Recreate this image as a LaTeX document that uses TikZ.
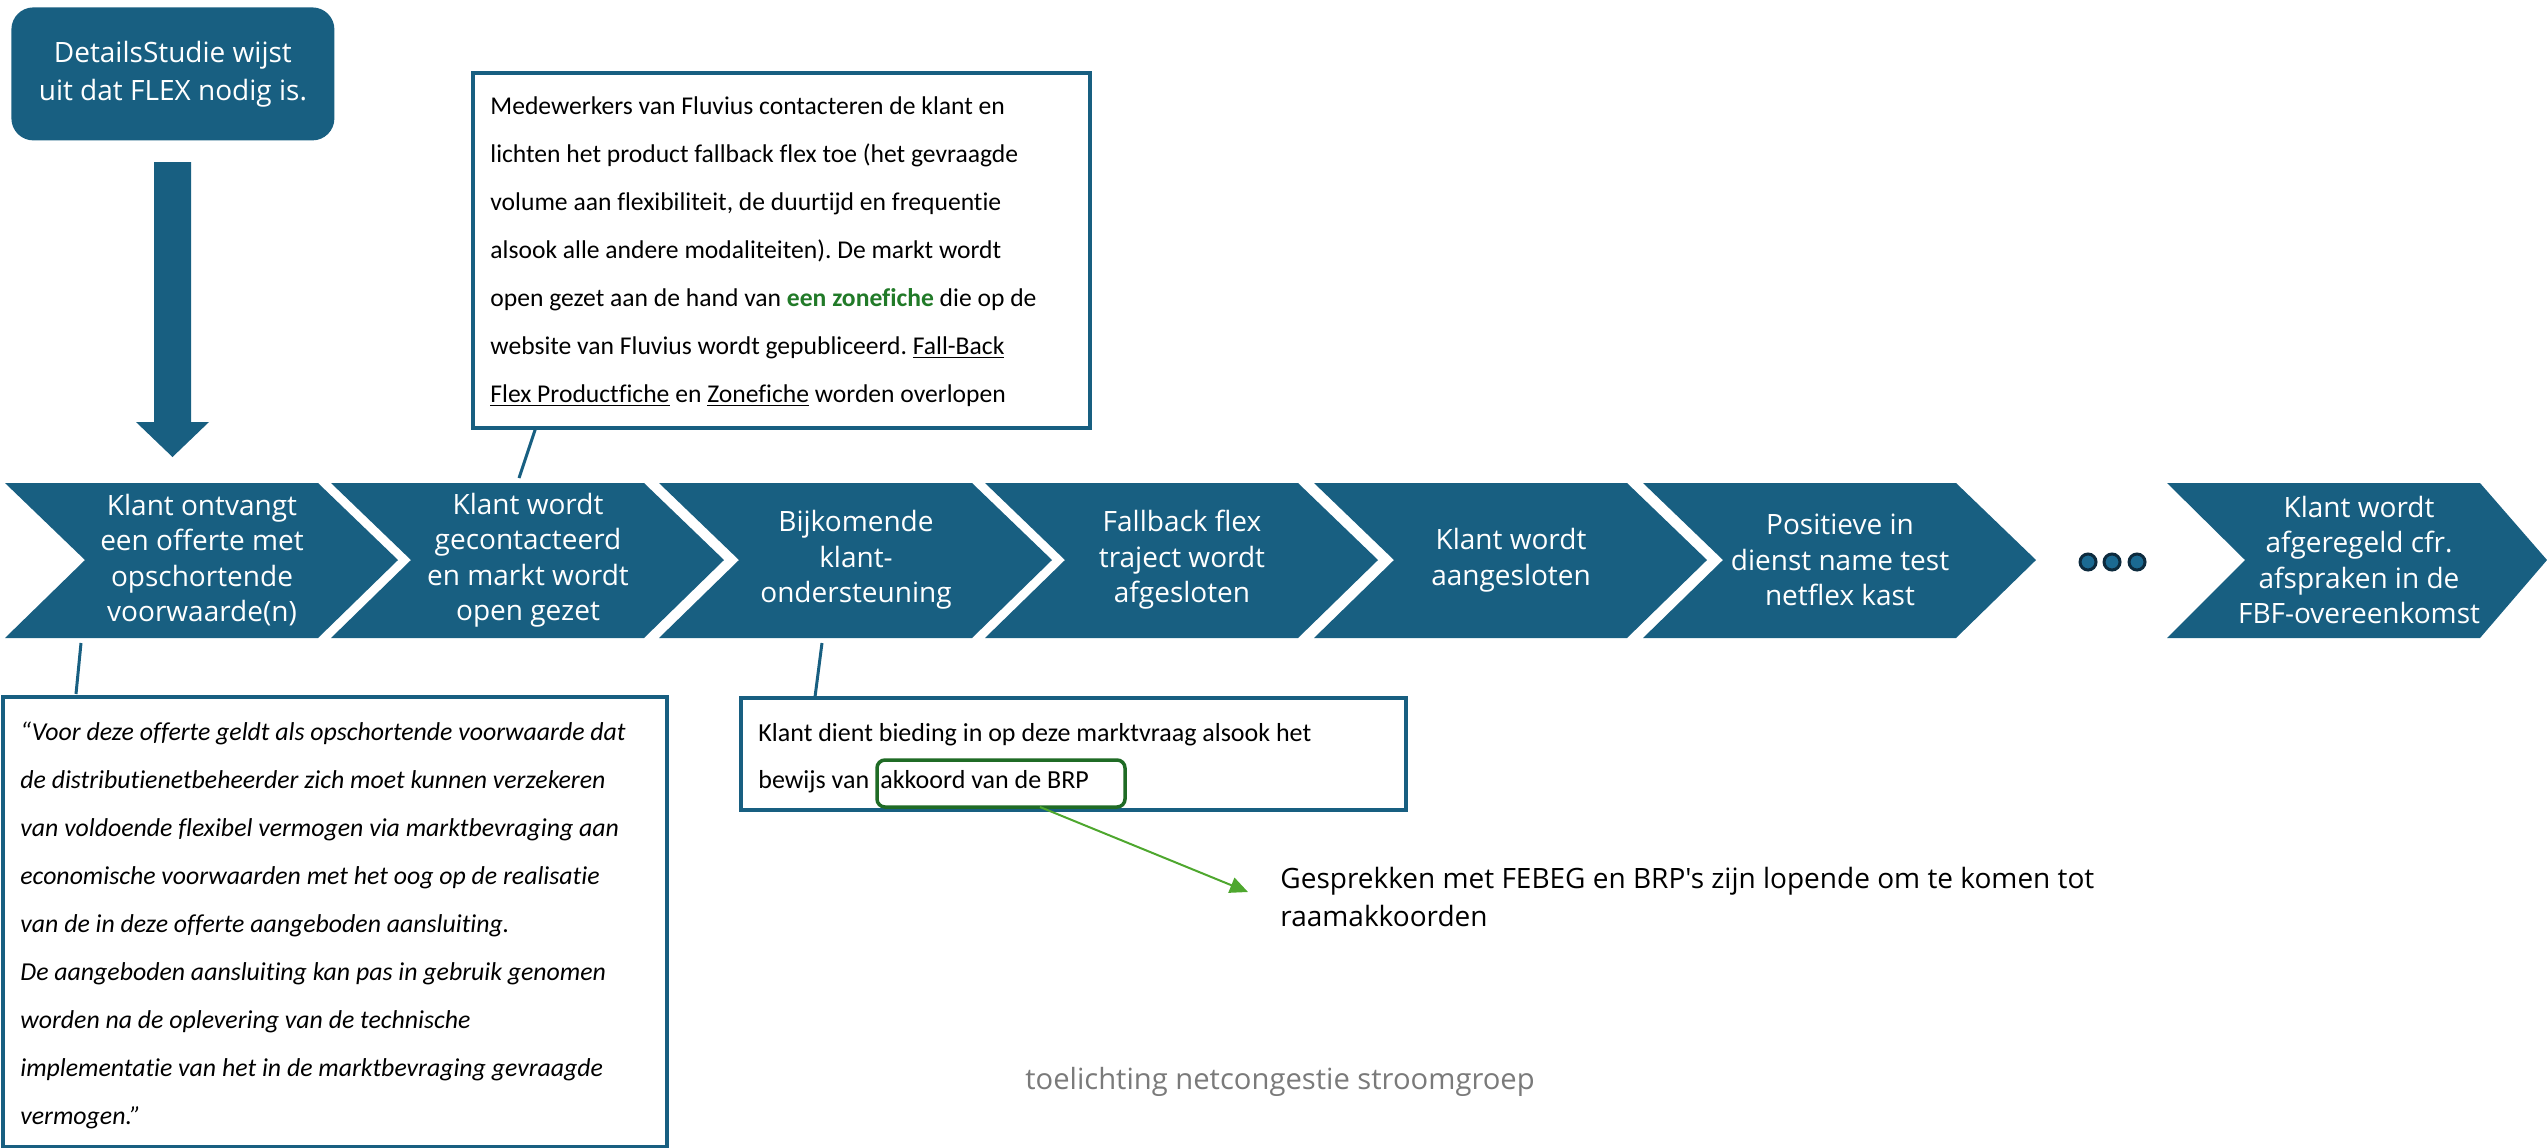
\documentclass[tikz,border=0pt]{standalone}
\usepackage{fontspec}
\setmainfont{Carlito}[Ligatures=NoCommon]
\newfontfamily\osans{Open Sans}
\usetikzlibrary{arrows.meta}
\definecolor{fblue}{HTML}{185F81}
\definecolor{dotnavy}{HTML}{0D2B3E}
\definecolor{dotfill}{HTML}{1B6A92}
\definecolor{gdark}{HTML}{1F6B25}
\definecolor{glight}{HTML}{4EA72E}
\definecolor{gtext}{HTML}{217A28}
\definecolor{footgray}{HTML}{7A7A7A}
\frenchspacing
\begin{document}
\begin{tikzpicture}[x=0.5pt,y=-0.5pt,
  chevtext/.style={text=white, font=\osans\fontsize{14pt}{17.75pt}\selectfont, align=center, inner sep=0pt},
  infobox/.style={draw=fblue, line width=1.75pt, fill=white, anchor=north west, inner sep=0pt},
  leader/.style={draw=fblue, line width=1.5pt},
  dotnode/.style={circle, draw=dotnavy, fill=dotfill, line width=1.5pt, minimum size=8pt, inner sep=0pt},
  plaintext/.style={inner sep=0pt, font=\fontsize{13pt}{24pt}\selectfont}
]
\useasboundingbox (0,0) rectangle (2547,1147);

% chevrons
\foreach \x/\n/\t in {5/ch1/{Klant ontvangt\\een offerte met\\opschortende\\voorwaarde(n)},
                      331/ch2/{Klant wordt\\gecontacteerd\\en markt wordt\\open gezet},
                      659/ch3/{Bijkomende\\klant-\\ondersteuning},
                      985/ch4/{Fallback flex\\traject wordt\\afgesloten},
                      1314/ch5/{Klant wordt\\aangesloten},
                      1643/ch6/{Positieve in\\dienst name test\\netflex kast}}{
  \fill[fblue] (\x,483) -- ++(313,0) -- ++(80,77) -- ++(-80,78) -- ++(-313,0) -- ++(80,-78) -- cycle;
  \node[chevtext] (\n) at (\x+197,560) {\t};
}
\fill[fblue] (2167,483) -- (2480,483) -- (2547,560) -- (2480,638) -- (2167,638) -- (2245,560) -- cycle;
\node[chevtext] (ch7) at (2359,560) {Klant wordt\\afgeregeld cfr.\\afspraken in de\\FBF-overeenkomst};

% dots
\node[dotnode] (d1) at (2088,562) {};
\node[dotnode] (d2) at (2112,562) {};
\node[dotnode] (d3) at (2137,562) {};

% top box and block arrow
\node[fill=fblue, rounded corners=11pt, minimum width=161.5pt, minimum height=66.5pt, anchor=north west,
      text=white, font=\osans\fontsize{14pt}{19pt}\selectfont, align=center] (study) at (11,7)
      {DetailsStudie wijst\\uit dat FLEX nodig is.};
\fill[fblue] (154,162) -- (191,162) -- (191,422) -- (209,422) -- (172.5,457) -- (136,422) -- (154,422) -- cycle;

% leader coordinates
\coordinate (c1a) at (81,643);  \coordinate (c1b) at (76,694);
\coordinate (c2a) at (536,427); \coordinate (c2b) at (519,478);
\coordinate (c3a) at (822,643); \coordinate (c3b) at (815,697);
\draw[leader] (c1a) -- (c1b);
\draw[leader] (c2a) -- (c2b);
\draw[leader] (c3a) -- (c3b);

% box 1
\node[infobox, minimum width=308.5pt, minimum height=177.5pt] (tb1) at (471,71) {};
\node[plaintext, anchor=west, align=left, font=\fontsize{12.8pt}{24pt}\selectfont] (tb1text) at (490,252)
{Medewerkers van Fluvius contacteren de klant en\\
lichten het product fallback flex toe (het gevraagde\\
volume aan flexibiliteit, de duurtijd en frequentie\\
alsook alle andere modaliteiten). De markt wordt\\
open gezet aan de hand van {\bfseries\color{gtext}een zonefiche} die op de\\
website van Fluvius wordt gepubliceerd. \underline{Fall-Back}\\
\underline{Flex Productfiche} en \underline{Zonefiche} worden overlopen};

% box 2
\node[infobox, minimum width=332pt, minimum height=225pt] (tb2) at (1,695) {};
\node[plaintext, anchor=west, align=left, font=\itshape\fontsize{12.9pt}{24pt}\selectfont] (tb2text) at (20,925)
{“Voor deze offerte geldt als opschortende voorwaarde dat\\
de distributienetbeheerder zich moet kunnen verzekeren\\
van voldoende flexibel vermogen via marktbevraging aan\\
economische voorwaarden met het oog op de realisatie\\
van de in deze offerte aangeboden aansluiting.\\
De aangeboden aansluiting kan pas in gebruik genomen\\
worden na de oplevering van de technische\\
implementatie van het in de marktbevraging gevraagde\\
vermogen.”};

% box 3
\node[infobox, minimum width=332.5pt, minimum height=56pt] (tb3) at (739,696) {};
\node[plaintext, anchor=base west] (b3l1) at (758,741) {Klant dient bieding in op deze marktvraag alsook het};
\node[plaintext, anchor=base west] (b3l2) at (758,788) {bewijs van};
\node[plaintext, anchor=base west] (akk) at (880,788) {akkoord van de BRP};
\coordinate (akkTL) at (877,760);
\coordinate (akkBR) at (1125,807);
\draw[gdark, line width=1.75pt, rounded corners=4pt] (akkTL) rectangle (akkBR);

% green arrow and note
\coordinate (gstart) at (1040,807);
\coordinate (gend) at (1248,892);
\draw[glight, line width=1pt, -{Triangle[length=9pt,width=8pt]}] (gstart) -- (gend);
\node[anchor=north west, inner sep=0pt, align=left, font=\osans\fontsize{14pt}{19pt}\selectfont] (gesp) at (1280,867)
  {Gesprekken met FEBEG en BRP's zijn lopende om te komen tot\\raamakkoorden};

% footer
\node[text=footgray, font=\osans\fontsize{14.6pt}{17pt}\selectfont] (foot) at (1280,1082)
  {toelichting netcongestie stroomgroep};
\end{tikzpicture}
\end{document}
